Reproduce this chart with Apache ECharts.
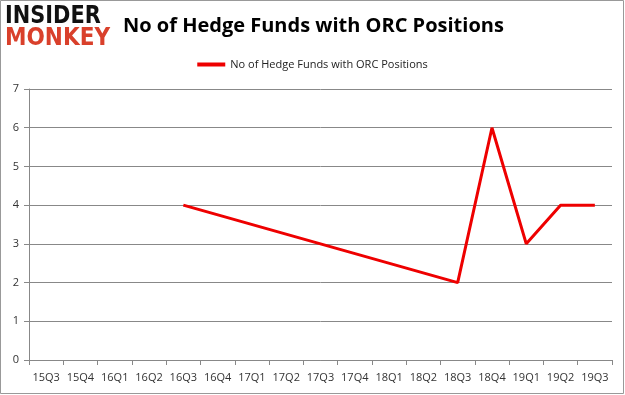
<!DOCTYPE html>
<html><head><meta charset="utf-8">
<script src="https://cdn.jsdelivr.net/npm/echarts@6/dist/echarts.min.js"></script>
<style>html,body{margin:0;padding:0;background:#fff}#c{width:625px;height:395px}</style>
</head><body><div id="c"></div>
<script>
const categories = ['15Q3','15Q4','16Q1','16Q2','16Q3','16Q4','17Q1','17Q2','17Q3','17Q4','18Q1','18Q2','18Q3','18Q4','19Q1','19Q2','19Q3'];
const values = [null,null,null,null,4,null,null,null,null,null,null,null,2,6,3,4,4];
const yTicks = [0,1,2,3,4,5,6,7];
const seriesName = 'No of Hedge Funds with ORC Positions';
const titleText = 'No of Hedge Funds with ORC Positions';

const chart = echarts.init(document.getElementById('c'), null, {renderer:'canvas'});
chart.setOption({
  animation:false,
  backgroundColor:'#fff',
  title:{text:titleText,left:118,top:11,textStyle:{fontFamily:'Open Sans',fontWeight:'bold',fontSize:20,color:'#000'}},
  legend:{data:[seriesName],top:54,left:'center',itemWidth:28,itemHeight:4,icon:'rect',itemGap:6,
    textStyle:{fontFamily:'Open Sans',fontSize:11,color:'#222'}},
  graphic:[
    {type:'rect',shape:{x:0.5,y:0.5,width:623,height:393},style:{fill:'none',stroke:'#999',lineWidth:1},silent:true},
    {type:'text',x:5,y:5,scaleX:0.87,style:{text:'INSIDER',font:'900 24px "DejaVu Sans"',fill:'#111',letterSpacing:-1}},
    {type:'text',x:5,y:27,scaleX:0.9,style:{text:'MONKEY',font:'900 24px "DejaVu Sans"',fill:'#d9402b',letterSpacing:-1}}
  ],
  grid:{left:29,right:13,top:89,bottom:35,containLabel:false},
  xAxis:{type:'category',data:categories,boundaryGap:true,
    axisLine:{lineStyle:{color:'#888'}},axisTick:{show:true,alignWithLabel:false,length:5,lineStyle:{color:'#888'}},
    axisLabel:{fontFamily:'Open Sans',fontSize:11,color:'#333',margin:12,interval:0}},
  yAxis:{type:'value',min:0,max:7,interval:1,
    axisLine:{show:true,lineStyle:{color:'#888'}},axisTick:{show:true,length:5,lineStyle:{color:'#888'}},
    splitLine:{lineStyle:{color:'#888'}},
    axisLabel:{fontFamily:'Open Sans',fontSize:11,color:'#333',margin:10}},
  series:[{name:seriesName,type:'line',data:values,connectNulls:true,showSymbol:false,symbol:'none',
    lineStyle:{color:'#ee0000',width:3},itemStyle:{color:'#ee0000'}}]
});
</script></body></html>
